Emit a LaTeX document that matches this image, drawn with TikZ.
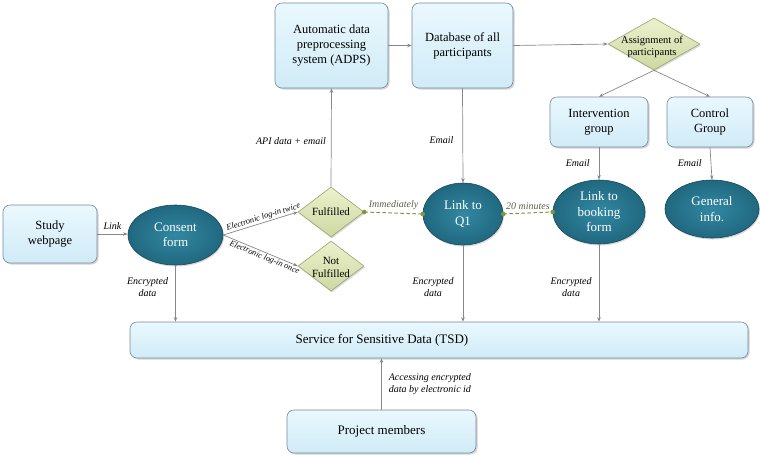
\documentclass[tikz,border=0pt]{standalone}
\usepackage{fontspec}
\setmainfont{LiberationSerif}[Extension=.ttf, UprightFont=*-Regular, ItalicFont=*-Italic, BoldFont=*-Bold, BoldItalicFont=*-BoldItalic]
\usetikzlibrary{shapes.geometric,shadows,arrows.meta}
\definecolor{boxtop}{RGB}{234,248,254}
\definecolor{boxbot}{RGB}{208,235,247}
\definecolor{boxedge}{RGB}{115,140,155}
\definecolor{ovalin}{RGB}{50,136,161}
\definecolor{ovalout}{RGB}{32,104,128}
\definecolor{ovaledge}{RGB}{25,75,95}
\definecolor{diatop}{RGB}{236,241,205}
\definecolor{diabot}{RGB}{205,216,162}
\definecolor{diaedge}{RGB}{150,165,110}
\definecolor{arrowgray}{RGB}{135,135,135}
\definecolor{olivedash}{RGB}{125,150,65}
\definecolor{olivetext}{RGB}{95,95,70}
\tikzset{
  box/.style={rectangle, rounded corners=7pt, draw=boxedge, line width=0.6pt,
    top color=boxtop, bottom color=boxbot,
    drop shadow={shadow xshift=1.5pt, shadow yshift=-1.5pt, opacity=0.35},
    align=center, font=\fontsize{12.5}{15}\selectfont, inner sep=2pt},
  oval/.style={ellipse, draw=ovaledge, line width=0.6pt, inner color=ovalin, outer color=ovalout,
    drop shadow={shadow xshift=1pt, shadow yshift=-1.5pt, opacity=0.3},
    text=white, align=center, font=\fontsize{13}{15.5}\selectfont, inner sep=0pt},
  dia/.style={diamond, draw=diaedge, line width=0.6pt, top color=diatop, bottom color=diabot,
    drop shadow={shadow xshift=1pt, shadow yshift=-1.5pt, opacity=0.3}, inner sep=0pt},
  diatext/.style={align=center, font=\fontsize{11}{13}\selectfont, inner sep=0pt},
  lbl/.style={font=\itshape\fontsize{10}{12}\selectfont, align=center, inner sep=1pt},
  slbl/.style={font=\itshape\fontsize{8.4}{10}\selectfont, inner sep=1pt, sloped},
  arr/.style={draw=arrowgray, line width=0.7pt, -{Stealth[length=4.5pt,width=3.5pt]}},
  dline/.style={draw=olivedash, line width=1pt, dash pattern=on 3.5pt off 2.5pt},
  olbl/.style={font=\itshape\fontsize{10}{12}\selectfont, text=olivetext, inner sep=1pt}
}
\begin{document}
\begin{tikzpicture}[x=1pt,y=-1pt]
\useasboundingbox (0,0) rectangle (760,459);
% boxes
\node[box, minimum width=94pt, minimum height=58pt] (study) at (50,234) {Study\\webpage};
\node[box, minimum width=113pt, minimum height=85pt] (adps) at (331.5,45.5) {Automatic data\\preprocessing\\system (ADPS)};
\node[box, minimum width=101pt, minimum height=85pt] (db) at (462.5,45.5) {Database of all\\participants};
\node[box, minimum width=98pt, minimum height=50pt] (interv) at (599,122) {Intervention\\group};
\node[box, minimum width=86pt, minimum height=50pt] (control) at (710,122) {Control\\Group};
\node[box, minimum width=618pt, minimum height=36pt] (tsd) at (439,340) {};
\node[font=\fontsize{13}{15}\selectfont] (tsdtext) at (382,340) {Service for Sensitive Data (TSD)};
\node[box, minimum width=189pt, minimum height=43pt, font=\fontsize{13}{15}\selectfont] (proj) at (381.5,431.5) {Project members};
% ellipses
\node[oval, minimum width=95pt, minimum height=60pt] (consent) at (175.5,235) {Consent\\form};
\node[oval, minimum width=80pt, minimum height=62pt] (q1) at (463,214) {Link to\\Q1};
\node[oval, minimum width=92pt, minimum height=64pt] (booking) at (599,212) {Link to\\booking\\form};
\node[oval, minimum width=94pt, minimum height=58pt] (general) at (712,209) {General\\info.};
% diamonds
\node[dia, minimum width=66pt, minimum height=50pt] (ful) at (331,212) {};
\node[diatext] (fultext) at (ful) {Fulfilled};
\node[dia, minimum width=66pt, minimum height=50pt] (nf) at (331,266) {};
\node[diatext] (nftext) at (331,267) {Not\\Fulfilled};
\node[dia, minimum width=92pt, minimum height=52pt] (assign) at (654,44) {};
\node[diatext, font=\fontsize{10.5}{11.5}\selectfont] (assigntext) at (652,47) {Assignment of\\participants};
% connectors
\draw[arr] (study.east) -- (study.east -| consent.west) node[lbl, midway, above=3pt] {Link};
\draw[arr] (consent.east) -- (ful.west) node[slbl, pos=0.56, above] {Electronic log-in twice};
\draw[arr] (consent.east) -- (nf.west) node[slbl, pos=0.58, below] {Electronic log-in once};
\draw[arr] (ful.north) -- (adps.south) node[lbl, pos=0.46, left=4pt] {API data + email};
\draw[arr] (adps.east) -- (db.west);
\draw[arr] (db.east) -- (assign.west);
\draw[arr] (assign.south) -- (interv.north);
\draw[arr] (assign.south) -- (control.north);
\draw[arr] (db.south) -- (q1.north) node[lbl, pos=0.55, left=8pt] {Email};
\draw[arr] (interv.south) -- (booking.north) node[lbl, pos=0.5, left=8pt] {Email};
\draw[arr] (control.south) -- (general.north) node[lbl, pos=0.5, left=8pt] {Email};
\draw[dline] (ful.east) -- (q1.west) node[olbl, midway, above=2pt] {Immediately};
\draw[dline] (q1.east) -- (booking.west) node[olbl, midway, above=2pt] {20 minutes};
\fill[olivedash] (ful.east) circle (2.3pt) (q1.west) circle (2.3pt) (q1.east) circle (2.3pt) (booking.west) circle (2.3pt);
\draw[arr] (consent.south) -- (consent.south |- tsd.north) node[lbl, pos=0.38, left=6pt] {Encrypted\\data};
\draw[arr] (q1.south) -- (q1.south |- tsd.north) node[lbl, pos=0.55, left=8pt] {Encrypted\\data};
\draw[arr] (booking.south) -- (booking.south |- tsd.north) node[lbl, pos=0.55, left=6pt] {Encrypted\\data};
\draw[arr] (proj.north) -- (proj.north |- tsd.south) node[lbl, midway, right=6pt, align=left] {Accessing encrypted\\data by electronic id};
\end{tikzpicture}
\end{document}
